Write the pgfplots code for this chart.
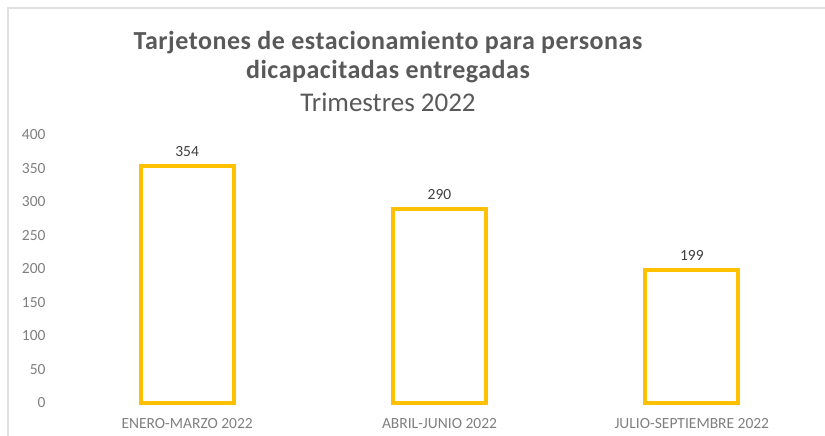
\documentclass[border=0pt]{standalone}
\usepackage{pgfplots}
\pgfplotsset{compat=1.18}
\usepackage{fontspec}
\setmainfont{Carlito}
\definecolor{barcol}{HTML}{FFC000}
\definecolor{titlecol}{HTML}{595959}
\definecolor{tickcol}{HTML}{7F7F7F}
\definecolor{labcol}{HTML}{404040}
\begin{document}
\begin{tikzpicture}[x=1pt,y=1pt]
  \path[use as bounding box] (0,0) rectangle (825,436);
  \draw[black!12, line width=1.5pt] (8,0) -- (8,428) -- (825,428);
  \begin{axis}[
      at={(61pt,33pt)}, anchor=south west,
      scale only axis,
      width=757pt, height=268pt,
      ybar, bar width=93pt,
      xmin=-0.5, xmax=2.5,
      ymin=0, ymax=400,
      ytick={0,50,...,400},
      xtick=data,
      xticklabels={ENERO-MARZO 2022, ABRIL-JUNIO 2022, JULIO-SEPTIEMBRE 2022},
      axis line style={draw=none},
      major tick length=0pt,
      tick label style={font=\fontsize{15.5}{18}\selectfont, text=tickcol},
      /pgf/number format/assume math mode=true,
      yticklabel style={xshift=-12pt},
      xticklabel style={yshift=-12pt},
      nodes near coords,
      every node near coord/.append style={font=\fontsize{15.5}{18}\selectfont, text=labcol, yshift=4pt},
      clip=false,
    ]
    \addplot[draw=barcol, fill=white, line width=4pt] coordinates {
      (0,354) (1,290) (2,199)
    };
  \end{axis}
  \node[text=titlecol, font=\fontsize{26}{30}\selectfont\bfseries\addfontfeatures{LetterSpace=2}] at (388,393) {Tarjetones de estacionamiento para personas};
  \node[text=titlecol, font=\fontsize{26}{30}\selectfont\bfseries\addfontfeatures{LetterSpace=2}] at (388,364) {dicapacitadas entregadas};
  \node[text=titlecol, font=\fontsize{27}{30}\selectfont] at (388,334) {Trimestres 2022};
\end{tikzpicture}
\end{document}
